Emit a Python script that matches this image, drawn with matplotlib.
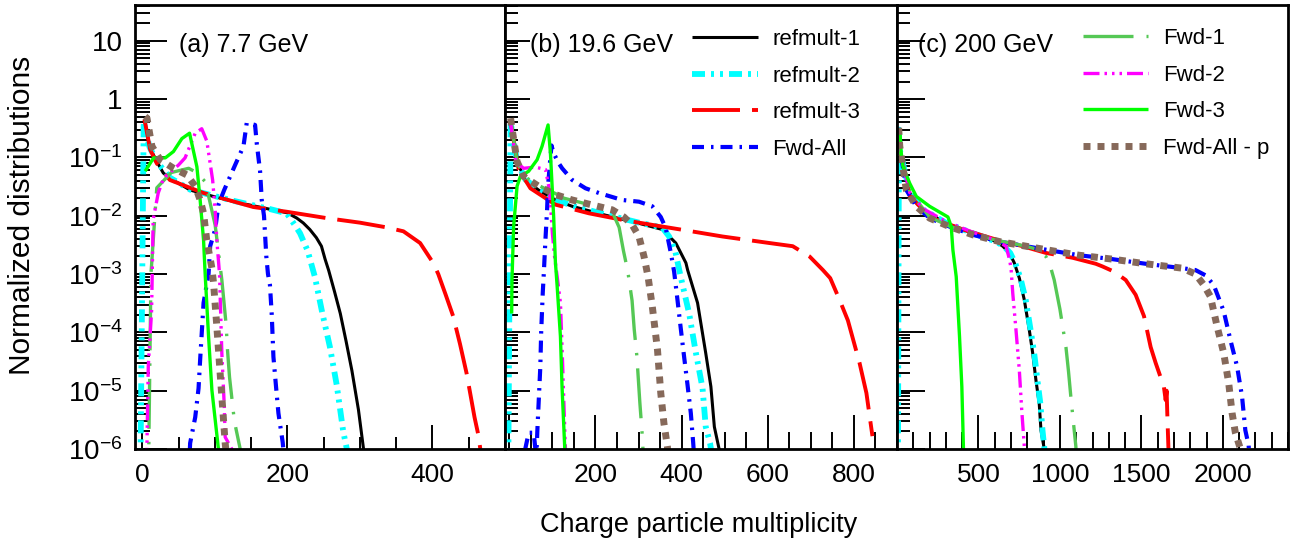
import matplotlib
matplotlib.use('Agg')
import numpy as np
import matplotlib.pyplot as plt
from matplotlib.ticker import FixedLocator, FixedFormatter, MultipleLocator, LogLocator, NullFormatter

plt.rcParams['font.family'] = ['Liberation Sans', 'DejaVu Sans']
plt.rcParams['mathtext.fontset'] = 'custom'
plt.rcParams['mathtext.rm'] = 'Liberation Sans'
plt.rcParams['mathtext.it'] = 'Liberation Sans:italic'
plt.rcParams['lines.scale_dashes'] = False

# ---------------- data ----------------
series_names = ['refmult-1', 'refmult-2', 'refmult-3', 'Fwd-All', 'Fwd-1', 'Fwd-2', 'Fwd-3', 'Fwd-All - p']
panel_titles = ['(a) 7.7 GeV', '(b) 19.6 GeV', '(c) 200 GeV']
y_tick_values = [1e-6, 1e-5, 1e-4, 1e-3, 1e-2, 1e-1, 1, 10]
y_tick_labels = [r'$\mathregular{10^{-6}}$', r'$\mathregular{10^{-5}}$', r'$\mathregular{10^{-4}}$',
                 r'$\mathregular{10^{-3}}$', r'$\mathregular{10^{-2}}$', r'$\mathregular{10^{-1}}$', '1', '10']
a_xticks = [0, 200, 400]
a_xlabels = ['0', '200', '400']
b_xticks = [0, 200, 400, 600, 800]
b_xlabels = ['', '200', '400', '600', '800']
c_xticks = [0, 500, 1000, 1500, 2000]
c_xlabels = ['', '500', '1000', '1500', '2000']

# ---- panel (a) 7.7 GeV ----
a_ref1_x = [3, 10, 20, 29, 38, 66, 98, 130, 176, 200, 213, 222, 231, 240, 247, 252, 257, 265, 273, 281, 289, 298, 305, 307]
a_ref1_y = [0.45, 0.15, 0.085, 0.054, 0.044, 0.0275, 0.0214, 0.017, 0.0129, 0.0112, 0.0091, 0.0075, 0.0058, 0.0042, 0.003,
            0.0018, 0.00115, 5e-4, 2.1e-4, 7e-5, 2.2e-5, 4.7e-6, 1e-6, 5e-7]
a_ref2_x = [-3, 2, 10, 20, 38, 66, 98, 130, 176, 199, 210, 217.5, 228, 238, 248, 258.7, 268, 277, 282, 284]
a_ref2_y = [1e-7, 0.42, 0.15, 0.085, 0.045, 0.028, 0.022, 0.0175, 0.013, 0.011, 0.007, 0.005, 0.0025, 8.9e-4, 2.2e-4,
            5.6e-5, 1.26e-5, 2e-6, 1e-6, 5e-7]
a_ref3_x = [3, 11, 20, 38, 84.5, 153, 199, 254, 300, 337, 360, 383, 401, 408, 418, 428.5, 438, 447, 458, 463, 466]
a_ref3_y = [0.45, 0.135, 0.079, 0.041, 0.0245, 0.0141, 0.0117, 0.0091, 0.0076, 0.0063, 0.0054, 0.0034, 0.00155, 0.001,
            4.5e-4, 1.9e-4, 6.3e-5, 2e-5, 3.5e-6, 1.8e-6, 1e-6]
a_fall_x = [62, 66, 73, 77.6, 79.8, 84.5, 91.4, 93.6, 100.5, 105, 112.9, 128, 139.5, 144, 155.5, 157.9, 162.4, 164.7,
            167.8, 171, 173.3, 176, 178.5, 180.8, 184.4, 187.7, 193.6, 196]
a_fall_y = [1e-7, 1.26e-6, 3.5e-6, 1.1e-5, 3.4e-5, 3.2e-4, 1e-3, 3e-3, 5.8e-3, 0.0155, 0.0275, 0.074, 0.155, 0.39, 0.36,
            0.17, 0.058, 0.0186, 0.01, 0.002, 0.001, 6.5e-4, 2e-4, 3.8e-5, 1.17e-5, 4.1e-6, 1.3e-6, 6e-7]
a_fwd1_x = [8, 12, 20, 40, 64, 75, 87, 100.5, 109.7, 115.6, 117.5, 120.3, 127, 135, 137]
a_fwd1_y = [1e-7, 1e-3, 0.03, 0.055, 0.065, 0.055, 0.038, 0.0069, 7.9e-4, 1.35e-4, 5e-5, 1.7e-5, 3e-6, 1e-6, 5e-7]
a_fwd2_x = [5, 8.3, 12.9, 15, 22, 29.4, 50, 59, 73, 82, 89, 93.6, 97, 100.5, 102.8, 106.5, 109.7, 112.9, 114.3, 123.4, 126]
a_fwd2_y = [1e-7, 2.6e-5, 2.4e-4, 8.5e-3, 0.0245, 0.044, 0.074, 0.098, 0.26, 0.31, 0.19, 0.079, 0.041, 0.0126, 0.0038,
            0.001, 4.4e-5, 6e-6, 1.6e-6, 1e-6, 5e-7]
a_fwd3_x = [4, 15.6, 31.7, 43, 54.6, 65.2, 75.3, 79.8, 84.5, 86.7, 91.4, 96, 105, 108]
a_fwd3_y = [0.058, 0.098, 0.098, 0.126, 0.21, 0.26, 0.069, 0.0186, 0.0038, 0.001, 8.5e-5, 1.02e-5, 1e-6, 5e-7]
a_fallp_x = [4, 6.5, 13.3, 24.8, 43.2, 61.5, 73, 79.8, 84.5, 88.9, 96, 98.3, 102.8, 107, 111, 114.3, 117]
a_fallp_y = [0.5, 0.47, 0.155, 0.091, 0.065, 0.05, 0.032, 0.0186, 0.011, 0.0038, 0.00126, 6.9e-4, 1.26e-4, 2.3e-5,
             4.7e-6, 1.26e-6, 6e-7]

# ---- panel (b) 19.6 GeV ----
b_ref1_x = [3, 5, 18, 37, 68, 107, 146, 223.5, 301, 355.5, 386.5, 410, 414, 437, 456, 468, 476, 487, 490]
b_ref1_y = [0.45, 0.36, 0.085, 0.041, 0.0275, 0.0186, 0.0145, 0.0102, 0.0074, 0.0058, 0.0034, 0.00155, 0.00117, 3.2e-4,
            4.4e-5, 1.17e-5, 2.4e-6, 1e-6, 5e-7]
b_ref2_x = [-3, 3, 18, 37, 68, 107, 146, 223.5, 301, 355, 371, 385, 398, 417.5, 433, 448.6, 456, 466, 473]
b_ref2_y = [1e-7, 0.4, 0.085, 0.042, 0.028, 0.019, 0.0148, 0.0105, 0.0076, 0.0063, 0.0044, 0.0025, 8.9e-4, 2.1e-4,
            4.5e-5, 1.1e-5, 2.4e-6, 1.26e-6, 6e-7]
b_ref3_x = [3, 21.7, 49, 107, 184.6, 262, 340, 410, 495, 604, 658, 697, 728, 745, 766.7, 786, 813, 829, 836.6, 843]
b_ref3_y = [0.4, 0.062, 0.0295, 0.0155, 0.011, 0.0085, 0.0068, 0.0056, 0.0044, 0.0034, 0.003, 0.002, 0.00117, 8.5e-4,
            3.6e-4, 1.6e-4, 3e-5, 9.1e-6, 3.6e-6, 1.66e-6]
b_fall_x = [30, 37, 45, 56.6, 60.5, 62, 65, 68, 72, 74, 77.6, 80, 83.8, 87.7, 89.8, 95.5, 98, 102.5, 114, 122.6, 146, 177,
            208, 262, 301, 332, 351.6, 363, 375, 382.6, 390.4, 398, 405.8, 413.7, 421.4, 426.8, 430]
b_fall_y = [1e-7, 1e-6, 1.9e-6, 1.9e-6, 1e-6, 5e-7, 2e-6, 6e-6, 2.6e-5, 1.02e-4, 4.7e-4, 1e-3, 3.8e-3, 0.0126, 0.032,
            0.102, 0.16, 0.12, 0.081, 0.065, 0.041, 0.0295, 0.0245, 0.0186, 0.0174, 0.0145, 0.0095, 0.0062, 0.0023,
            1.1e-3, 3.6e-4, 1.17e-4, 3.8e-5, 1.26e-5, 4.1e-6, 1.3e-6, 6e-7]
b_fwd1_x = [3, 5, 18, 33, 68, 107, 126.5, 200, 240, 255, 265, 275, 285, 290, 296, 303, 308, 311]
b_fwd1_y = [0.45, 0.36, 0.085, 0.048, 0.033, 0.024, 0.02, 0.0145, 0.0112, 0.0063, 0.0025, 0.00112, 3.5e-4, 1.12e-4,
            4e-5, 6.3e-6, 2e-6, 8e-7]
b_fwd2_x = [3, 15, 33, 60.5, 84, 91.5, 95.5, 100, 105, 112, 118.7, 122.6, 126.4, 130, 133]
b_fwd2_y = [0.4, 0.085, 0.065, 0.068, 0.062, 0.032, 0.0162, 0.005, 0.002, 8e-4, 3.2e-4, 5.2e-5, 7.1e-6, 1.12e-6, 5e-7]
b_fwd3_x = [5.5, 6.2, 10, 18, 25.6, 45, 64.5, 76, 90, 95.5, 103, 107, 111, 118.7, 122.4, 128.8, 131]
b_fwd3_y = [2.1e-4, 7.9e-4, 6.5e-3, 0.032, 0.047, 0.058, 0.091, 0.155, 0.36, 0.117, 0.0095, 1.6e-3, 6.3e-4, 8.5e-5,
            1.17e-5, 1e-6, 5e-7]
b_fallp_x = [3, 5, 18, 33.3, 68, 107, 146, 184.6, 239, 266, 285.6, 301, 312.7, 322, 332, 344, 351.6, 359, 367, 370]
b_fallp_y = [0.47, 0.36, 0.085, 0.047, 0.032, 0.023, 0.0186, 0.0158, 0.0126, 0.0095, 0.0069, 0.0044, 0.002, 9.1e-4,
             2.75e-4, 5e-5, 9.1e-6, 2.75e-6, 1.1e-6, 5e-7]

# ---- panel (c) 200 GeV ----
c_ref1_x = [10, 17, 78, 160, 302, 466, 608, 649, 690, 720, 751, 781.5, 812, 833, 853, 873, 883.7, 904, 910]
c_ref1_y = [0.32, 0.135, 0.0245, 0.0126, 0.0074, 0.005, 0.0036, 0.003, 0.0023, 0.00155, 8.5e-4, 3.6e-4, 1.1e-4,
            4.4e-5, 1.5e-5, 6e-6, 2.1e-6, 1e-6, 5e-7]
c_ref2_x = [5, 12, 17, 78, 160, 302, 466, 608, 655, 695, 725, 758, 790, 820, 842, 862, 880, 893, 905, 912]
c_ref2_y = [1e-7, 0.3, 0.135, 0.025, 0.0128, 0.0075, 0.005, 0.0036, 0.003, 0.0023, 0.00155, 8.5e-4, 3.6e-4, 1.1e-4,
            4.4e-5, 1.5e-5, 6e-6, 2.1e-6, 1e-6, 5e-7]
c_ref3_x = [10, 17, 78, 200, 404.5, 608, 771.5, 914, 1078, 1220, 1261, 1332, 1404, 1465, 1516, 1557, 1587.5, 1618,
            1638, 1649, 1655, 1659, 1665, 1669]
c_ref3_y = [0.32, 0.135, 0.022, 0.0095, 0.0058, 0.0039, 0.003, 0.0023, 0.0019, 0.0015, 0.00135, 0.0011, 7.9e-4,
            4.4e-4, 1.9e-4, 5.6e-5, 3e-5, 1.7e-5, 1.17e-5, 6.9e-6, 1e-5, 4.1e-6, 1.26e-6, 6e-7]
c_fall_x = [10, 17, 57.5, 118.7, 200, 322.5, 466, 628.5, 792, 955, 1118, 1322, 1526, 1751, 1832, 1893.6, 1944, 2005.5,
            2046.5, 2087.5, 2118, 2138, 2158.5, 2165]
c_fall_y = [0.32, 0.155, 0.0275, 0.0145, 0.0091, 0.0065, 0.0047, 0.0036, 0.003, 0.0025, 0.0021, 0.0018, 0.0015,
            0.00126, 0.00117, 9.5e-4, 6.5e-4, 2.3e-4, 7.4e-5, 2.6e-5, 7.9e-6, 2.1e-6, 1.15e-6, 5e-7]
c_fwd1_x = [10, 17, 78, 200, 322.5, 466, 628.5, 792, 850, 914, 940, 965, 1000, 1037, 1053, 1067, 1085, 1098, 1102]
c_fwd1_y = [0.32, 0.135, 0.026, 0.0095, 0.0066, 0.0048, 0.0037, 0.003, 0.0027, 0.002, 0.0014, 7.9e-4, 2.5e-4, 5.6e-5,
            2.1e-5, 7.9e-6, 2.5e-6, 1.1e-6, 5e-7]
c_fwd2_x = [10, 17, 78, 160, 302, 466, 608, 669.5, 690, 700, 710.5, 730.7, 751, 765.5, 781.5, 786]
c_fwd2_y = [0.32, 0.135, 0.025, 0.0132, 0.0079, 0.0052, 0.0038, 0.003, 0.0018, 0.00126, 4.7e-4, 1.07e-4, 2.2e-5,
            4.7e-6, 1.1e-6, 5e-7]
c_fwd3_x = [17, 25, 37, 78, 118.7, 200, 312.7, 333, 343, 363.5, 383.7, 398, 408, 411]
c_fwd3_y = [0.32, 0.126, 0.069, 0.036, 0.0214, 0.0145, 0.0095, 0.0065, 0.0026, 9e-4, 8.5e-5, 1.17e-5, 1e-6, 5e-7]
c_fallp_x = [10, 17, 57.5, 118.7, 200, 322.5, 466, 628.5, 792, 955, 1118, 1322, 1526, 1751, 1832, 1883, 1924, 1965,
             2005.5, 2036, 2057, 2077, 2108, 2115]
c_fallp_y = [0.32, 0.155, 0.0275, 0.0145, 0.0091, 0.0065, 0.0047, 0.0036, 0.003, 0.0025, 0.0021, 0.0018, 0.0015,
             0.00126, 0.001, 6.5e-4, 4.1e-4, 1.26e-4, 4.4e-5, 1.35e-5, 4.1e-6, 1.9e-6, 1e-6, 5e-7]

# ---------------- styles ----------------
def px2pt(seq):
    return [v * 0.72 for v in seq]

styles = {
    'refmult-1': dict(color='black', lw=2.2, dashes=None),
    'refmult-2': dict(color='#00ffff', lw=4.2, dashes=px2pt([13, 6, 3, 6, 3, 6])),
    'refmult-3': dict(color='#ff0000', lw=2.8, dashes=px2pt([48, 12])),
    'Fwd-All': dict(color='#0000ff', lw=3.0, dashes=px2pt([12, 7, 2.5, 7])),
    'Fwd-1': dict(color='#55c855', lw=2.4, dashes=px2pt([50, 13, 2.5, 13])),
    'Fwd-2': dict(color='#ff00ff', lw=2.4, dashes=px2pt([16, 5, 2.5, 5, 2.5, 5, 2.5, 5])),
    'Fwd-3': dict(color='#00ff00', lw=2.4, dashes=None),
    'Fwd-All - p': dict(color='#86695a', lw=5.0, dashes=px2pt([7, 7])),
}

panels = [
    [(a_ref1_x, a_ref1_y), (a_ref2_x, a_ref2_y), (a_ref3_x, a_ref3_y), (a_fall_x, a_fall_y),
     (a_fwd1_x, a_fwd1_y), (a_fwd2_x, a_fwd2_y), (a_fwd3_x, a_fwd3_y), (a_fallp_x, a_fallp_y)],
    [(b_ref1_x, b_ref1_y), (b_ref2_x, b_ref2_y), (b_ref3_x, b_ref3_y), (b_fall_x, b_fall_y),
     (b_fwd1_x, b_fwd1_y), (b_fwd2_x, b_fwd2_y), (b_fwd3_x, b_fwd3_y), (b_fallp_x, b_fallp_y)],
    [(c_ref1_x, c_ref1_y), (c_ref2_x, c_ref2_y), (c_ref3_x, c_ref3_y), (c_fall_x, c_fall_y),
     (c_fwd1_x, c_fwd1_y), (c_fwd2_x, c_fwd2_y), (c_fwd3_x, c_fwd3_y), (c_fallp_x, c_fallp_y)],
]

# ---------------- figure ----------------
W, H = 1300, 544
fig = plt.figure(figsize=(W / 100, H / 100), dpi=100)

def box(l, r, t=5, b=449):
    return [l / W, (H - b) / H, (r - l) / W, (b - t) / H]

ax_a = fig.add_axes(box(135, 505))
ax_b = fig.add_axes(box(505, 897))
ax_c = fig.add_axes(box(897, 1288))
axes = [ax_a, ax_b, ax_c]
xlims = [(-10, 500), (-10, 900), (0, 2400)]
xticks = [a_xticks, b_xticks, c_xticks]
xlabels = [a_xlabels, b_xlabels, c_xlabels]
xminor = [50, 50, 100]
xmaj_len = [17, 24.5, 24.5]
xmin_len = [8.6, 12.2, 12.2]
ymaj_len = [23, 18, 20]
ymin_len = [11, 9, 9.4]
title_x = [(179 - 135) / 370, (530 - 505) / 392, (918 - 897) / 391]

all_lines = []
for i, ax in enumerate(axes):
    lines = {}
    for name, (xs, ys) in zip(series_names, panels[i]):
        st = styles[name]
        ln, = ax.plot(xs, ys, color=st['color'], lw=st['lw'], label=name,
                      solid_capstyle='butt', dash_capstyle='butt', solid_joinstyle='round')
        if st['dashes'] is not None:
            ln.set_dashes(st['dashes'])
        lines[name] = ln
    all_lines.append(lines)

    ax.set_yscale('log')
    ax.set_ylim(1e-6, 41)
    ax.set_xlim(*xlims[i])
    ax.xaxis.set_major_locator(FixedLocator(xticks[i]))
    ax.xaxis.set_major_formatter(FixedFormatter(xlabels[i]))
    ax.xaxis.set_minor_locator(MultipleLocator(xminor[i]))
    ax.yaxis.set_major_locator(FixedLocator(y_tick_values))
    ax.yaxis.set_minor_locator(LogLocator(base=10, subs=np.arange(2, 10), numticks=30))
    ax.yaxis.set_minor_formatter(NullFormatter())
    if i == 0:
        ax.yaxis.set_major_formatter(FixedFormatter(y_tick_labels))
    else:
        ax.yaxis.set_major_formatter(NullFormatter())
    ax.tick_params(axis='both', which='both', direction='in', top=False, right=False, width=1.4, color='black')
    ax.tick_params(axis='x', which='major', length=xmaj_len[i], labelsize=19, pad=10)
    ax.tick_params(axis='x', which='minor', length=xmin_len[i])
    ax.tick_params(axis='y', which='major', length=ymaj_len[i], labelsize=20, pad=9)
    ax.tick_params(axis='y', which='minor', length=ymin_len[i])
    for sp in ax.spines.values():
        sp.set_linewidth(2.0)
    ax.text(title_x[i], (449 - 45) / 444, panel_titles[i], transform=ax.transAxes,
            fontsize=18, ha='left', va='center')

# legends
leg_b = ax_b.legend([all_lines[1][n] for n in series_names[:4]], series_names[:4],
                    loc='upper left', bbox_to_anchor=((692 - 505) / 392, (449 - 29) / 444),
                    frameon=False, fontsize=16, handlelength=2.97, handletextpad=0.63,
                    labelspacing=0.7, borderpad=0, borderaxespad=0)
leg_c = ax_c.legend([all_lines[2][n] for n in series_names[4:]], series_names[4:],
                    loc='upper left', bbox_to_anchor=((1083 - 897) / 391, (449 - 28) / 444),
                    frameon=False, fontsize=16, handlelength=2.93, handletextpad=0.68,
                    labelspacing=0.7, borderpad=0, borderaxespad=0)

fig.text(22.5 / W, 1 - 215 / H, 'Normalized distributions', rotation=90, fontsize=21.5,
         ha='center', va='center')
fig.text(699 / W, 1 - 525 / H, 'Charge particle multiplicity', fontsize=19.5, ha='center', va='center')

fig.savefig('out.png', dpi=100)
